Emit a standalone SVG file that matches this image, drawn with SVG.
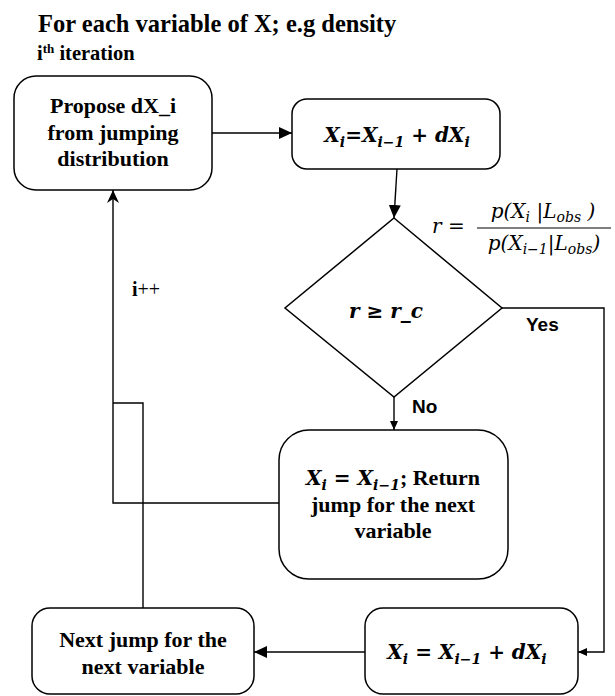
<svg xmlns="http://www.w3.org/2000/svg" width="615" height="696" viewBox="0 0 615 696">
<style>
.box{fill:#fff;stroke:#000;stroke-width:1.5}
.ln{fill:none;stroke:#000;stroke-width:1.4}
.hd{font-family:'Liberation Serif',serif;font-weight:bold;fill:#000}
.t{font-family:'Liberation Serif',serif;font-weight:bold;font-size:22px;text-anchor:middle;fill:#000}
.m{font-family:'DejaVu Serif',serif;font-weight:bold;font-style:italic;font-size:20px;fill:#000}
.mi{font-family:'DejaVu Serif',serif;font-style:italic;font-size:20px;fill:#000}
.lbl{font-family:'Liberation Sans',sans-serif;font-weight:bold;font-size:19px;fill:#000}
.sub{font-size:14px}
</style>
<defs>
<marker id="arr" markerUnits="userSpaceOnUse" markerWidth="14" markerHeight="12" refX="13" refY="6" orient="auto"><path d="M0,0 L13,6 L0,12 z" fill="#000"/></marker>
<marker id="sm" markerUnits="userSpaceOnUse" markerWidth="10" markerHeight="8" refX="9" refY="4" orient="auto"><path d="M0,0 L9,4 L0,8 z" fill="#000"/></marker>
<marker id="st" markerUnits="userSpaceOnUse" markerWidth="14" markerHeight="12" refX="13" refY="6" orient="auto"><path d="M0,0 L13,6 L0,12 L4,6 z" fill="#000"/></marker>
</defs>

<g id="title">
<text class="hd" x="38" y="32" font-size="24.5">For each variable of X; e.g density</text>
<text class="hd" x="37" y="60" font-size="20.5">i<tspan dy="-7" font-size="13">th</tspan><tspan dy="7"> iteration</tspan></text>
</g>

<g id="connectors">
<path class="ln" d="M212,133 L292,133" marker-end="url(#arr)"/>
<path class="ln" d="M397,169 L394,218" marker-end="url(#arr)"/>
<path class="ln" d="M502,308 L604,308 L604,652 L578,652" marker-end="url(#sm)"/>
<path class="ln" d="M394,397 L394,430" marker-end="url(#sm)"/>
<path class="ln" d="M279,503 L113,503 L113,190" marker-end="url(#st)"/>
<path class="ln" d="M143,608 L143,403 L113,403"/>
<path class="ln" d="M365,652 L254,652" marker-end="url(#arr)"/>
<text class="lbl" x="526" y="331">Yes</text>
<text class="lbl" x="412" y="413">No</text>
<text x="132" y="296" font-family="'Liberation Serif',serif" font-size="20"><tspan font-weight="bold">i</tspan>++</text>
</g>

<g id="propose">
<rect class="box" x="14" y="76" width="198" height="114" rx="22"/>
<text class="t" x="113" y="113">Propose dX_i</text>
<text class="t" x="113" y="140">from jumping</text>
<text class="t" x="113" y="166">distribution</text>
</g>

<g id="update">
<rect class="box" x="292" y="99" width="208" height="70" rx="15"/>
<text class="m" x="397" y="142" text-anchor="middle">X<tspan class="sub" dy="5">i</tspan><tspan dy="-5">=X</tspan><tspan class="sub" dy="5">i−1</tspan><tspan dy="-5"> + dX</tspan><tspan class="sub" dy="5">i</tspan></text>
</g>

<g id="decision">
<path class="box" d="M394,218 L502,308 L394,397 L285,308 z"/>
<text class="m" x="386" y="318" text-anchor="middle">r ≥ r_c</text>
</g>

<g id="ratio">
<text class="mi" x="432" y="233" font-size="22">r =</text>
<line x1="477" y1="228" x2="611" y2="228" stroke="#000" stroke-width="1.2"/>
<text class="mi" x="543" y="218" text-anchor="middle">p(X<tspan class="sub" dy="4">i</tspan><tspan dy="-4"> |L</tspan><tspan class="sub" dy="4">obs</tspan><tspan dy="-4"> )</tspan></text>
<text class="mi" x="544" y="250" text-anchor="middle">p(X<tspan class="sub" dy="4">i−1</tspan><tspan dy="-4">|L</tspan><tspan class="sub" dy="4">obs</tspan><tspan dy="-4">)</tspan></text>
</g>

<g id="reject">
<rect class="box" x="279" y="430" width="229" height="149" rx="30"/>
<text class="t" x="393" y="485"><tspan class="m">X<tspan class="sub" dy="5">i</tspan><tspan dy="-5"> = X</tspan><tspan class="sub" dy="5">i−1</tspan></tspan><tspan dy="-5">; Return</tspan></text>
<text class="t" x="393" y="512">jump for the next</text>
<text class="t" x="393" y="538">variable</text>
</g>

<g id="accept">
<rect class="box" x="365" y="608" width="213" height="86" rx="18"/>
<text class="m" x="467" y="659" text-anchor="middle">X<tspan class="sub" dy="5">i</tspan><tspan dy="-5"> = X</tspan><tspan class="sub" dy="5">i−1</tspan><tspan dy="-5"> + dX</tspan><tspan class="sub" dy="5">i</tspan></text>
</g>

<g id="nextjump">
<rect class="box" x="32" y="608" width="222" height="86" rx="18"/>
<text class="t" x="143" y="647">Next jump for the</text>
<text class="t" x="143" y="674">next variable</text>
</g>
</svg>
